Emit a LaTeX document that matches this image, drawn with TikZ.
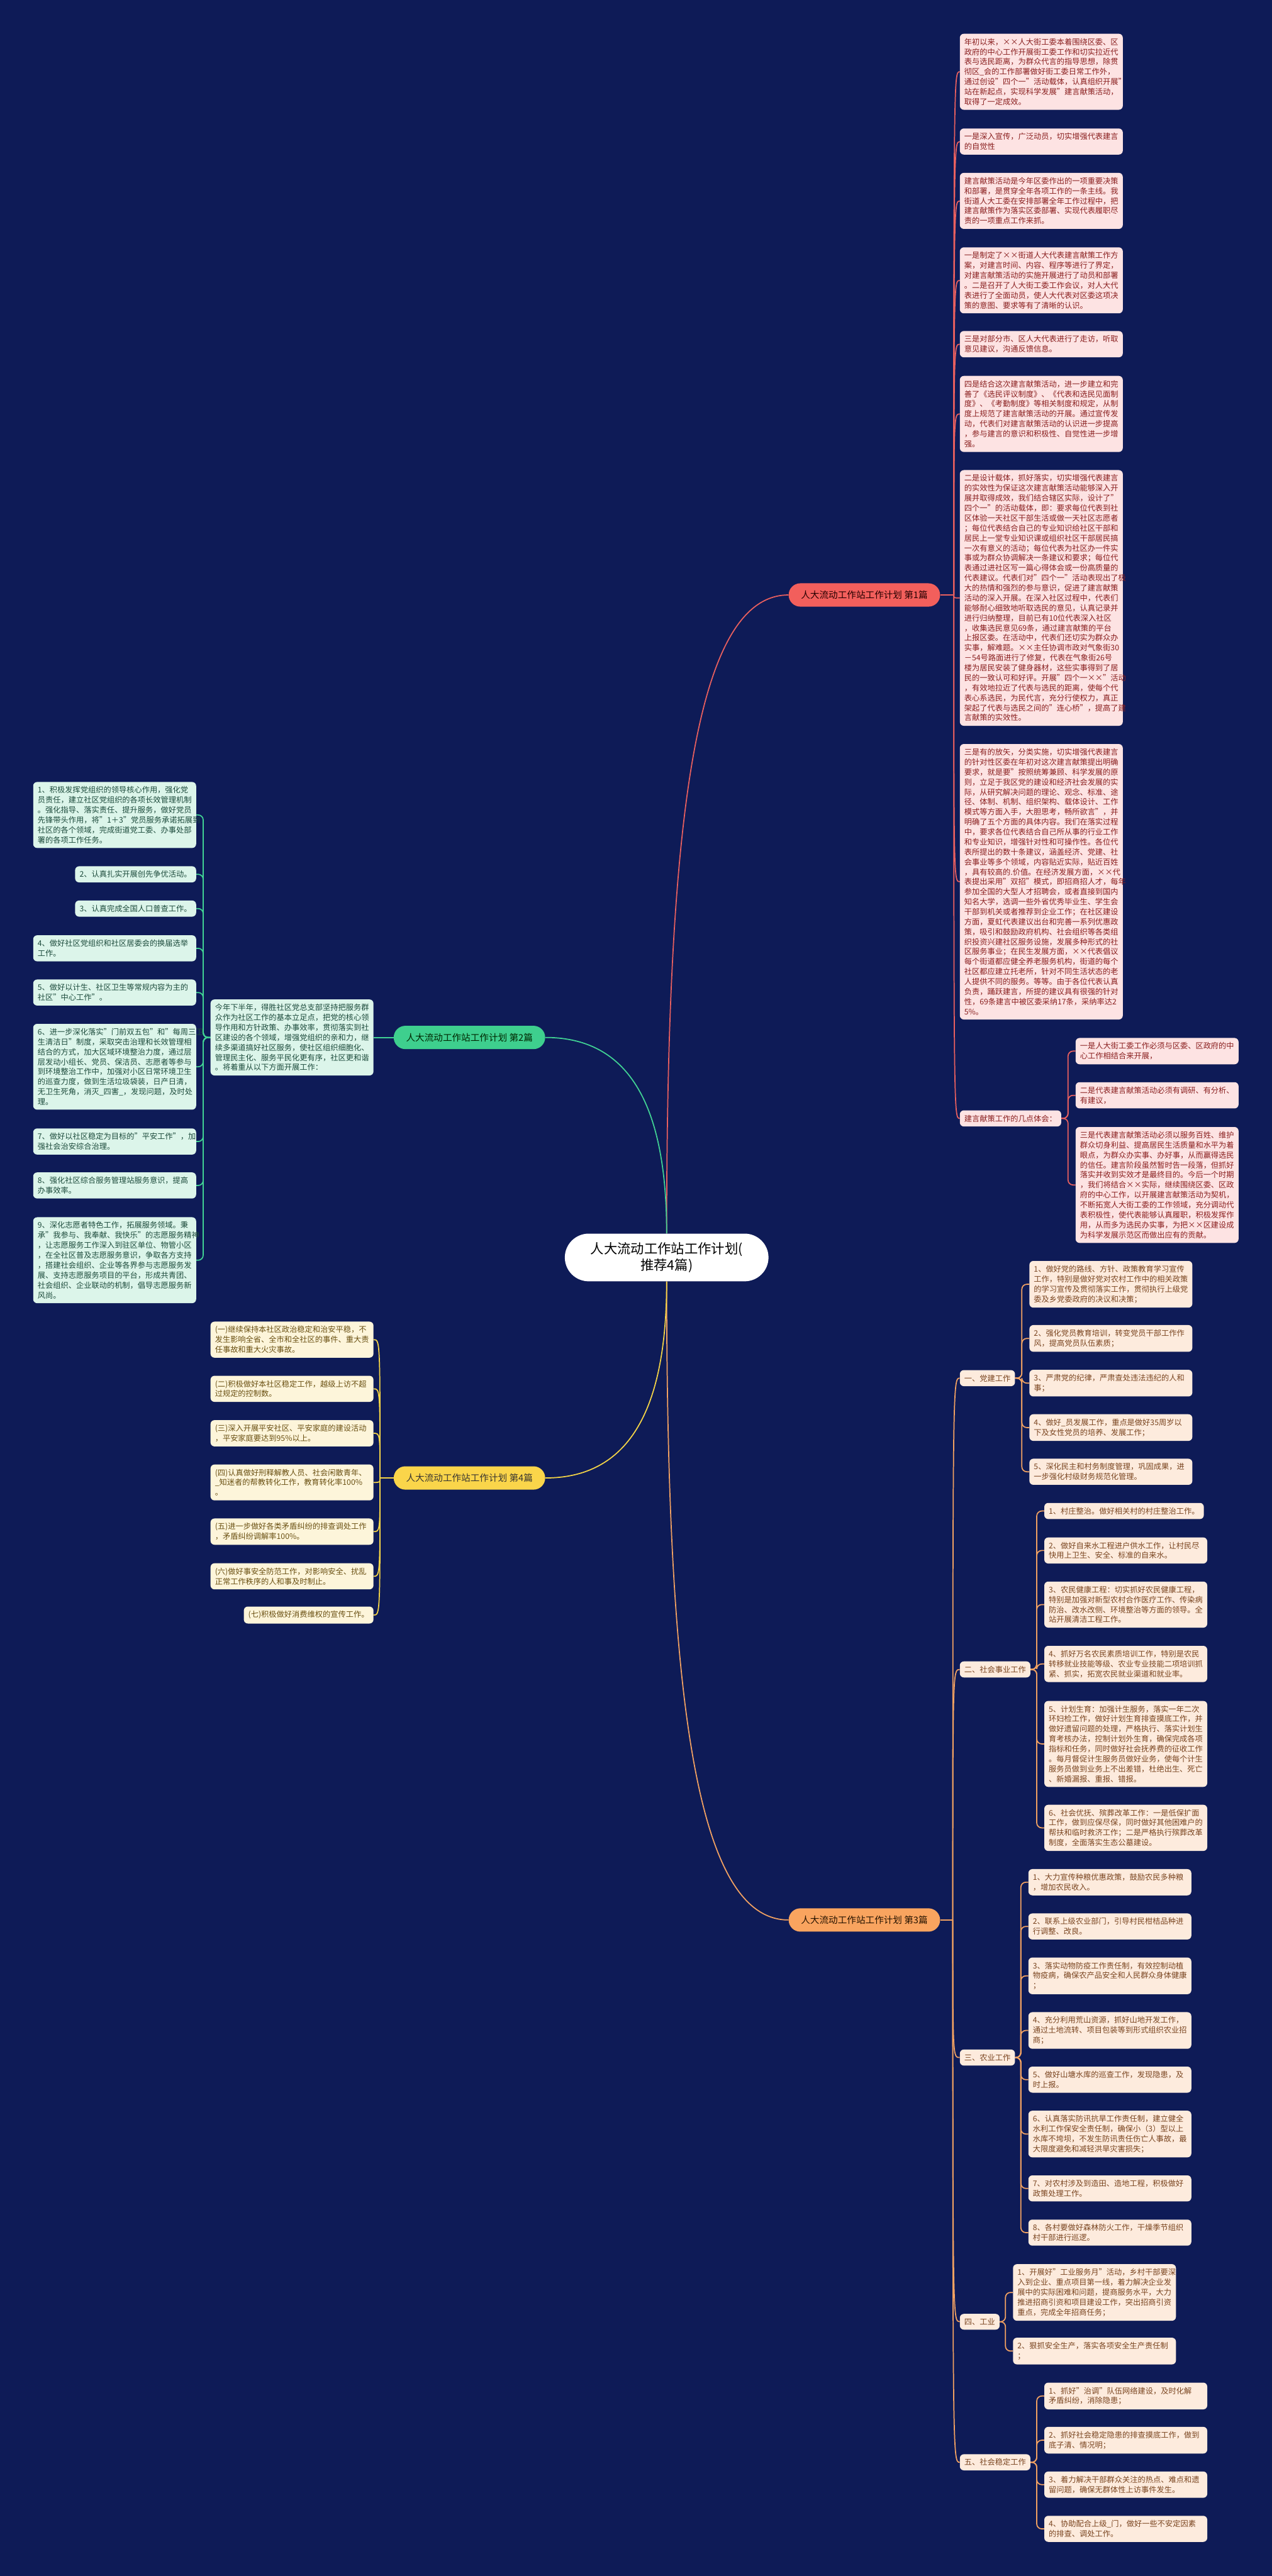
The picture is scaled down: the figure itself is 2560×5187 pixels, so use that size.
\documentclass[tikz,border=0pt]{standalone}
\usepackage{fontspec}
\setmainfont{Noto Sans CJK SC}
\usetikzlibrary{backgrounds}
\definecolor{bgc}{HTML}{0E1B57}
\definecolor{f1}{HTML}{FDE3E3}\definecolor{t1}{HTML}{8A1F1F}\definecolor{n1}{HTML}{F25F5C}\definecolor{k1}{HTML}{E9605F}
\definecolor{f2}{HTML}{DCF5EA}\definecolor{t2}{HTML}{1D4B3C}\definecolor{n2}{HTML}{3ECF8E}\definecolor{k2}{HTML}{41D394}
\definecolor{f3}{HTML}{FDEBDD}\definecolor{t3}{HTML}{7A4520}\definecolor{n3}{HTML}{F9A45F}\definecolor{k3}{HTML}{F2A262}
\definecolor{f4}{HTML}{FDF5DA}\definecolor{t4}{HTML}{6A5012}\definecolor{n4}{HTML}{FAD54A}\definecolor{k4}{HTML}{F4D447}
\newcommand\leaffont{\fontsize{15.5}{20.1}\selectfont}
\tikzset{
 box/.style={rounded corners=8pt, inner xsep=9pt, inner ysep=9pt, align=left, font=\leaffont},
 wide/.style={text width=310pt},
 lr/.style={box, anchor=west},
 ll/.style={box, anchor=east},
 b1/.style={fill=f1, text=t1},
 b2/.style={fill=f2, text=t2},
 b3/.style={fill=f3, text=t3},
 b4/.style={fill=f4, text=t4},
 sec/.style={rounded corners=23.5pt, minimum height=47pt, inner xsep=25pt, font=\fontsize{18.5}{22}\selectfont},
 lnk/.style={line width=2.2pt},
 elb/.style={lnk, rounded corners=10pt},
}
\begin{document}
\begin{tikzpicture}[x=1pt,y=-1pt]
\useasboundingbox (0,0) rectangle (2560,5187);
% root and sections
\node[fill=white, text=black, rounded corners=48pt, minimum width=410pt, minimum height=96pt, align=center, font=\fontsize{27}{33.5}\selectfont] (root) at (1342,2532) {人大流动工作站工作计划(\\推荐4篇)};
\node[sec, fill=n1, text=black!85!red] (s1) at (1740,1198) {人大流动工作站工作计划 第1篇};
\node[sec, fill=n2, text=black!85!green] (s2) at (945,2089) {人大流动工作站工作计划 第2篇};
\node[sec, fill=n3, text=black!85!orange] (s3) at (1740,3866) {人大流动工作站工作计划 第3篇};
\node[sec, fill=n4, text=black!90!yellow] (s4) at (945,2976) {人大流动工作站工作计划 第4篇};
% section 1
\node[lr,b1,wide] (a1) at (1932,144.5) {年初以来，××人大街工委本着围绕区委、区\\政府的中心工作开展街工委工作和切实拉近代\\表与选民距离，为群众代言的指导思想，除贯\\彻区\_会的工作部署做好街工委日常工作外，\\通过创设"四个一"活动载体，认真组织开展"\\站在新起点，实现科学发展"建言献策活动，\\取得了一定成效。};
\node[lr,b1,wide] (a2) at (1932,285) {一是深入宣传，广泛动员，切实增强代表建言\\的自觉性};
\node[lr,b1,wide] (a3) at (1932,404.5) {建言献策活动是今年区委作出的一项重要决策\\和部署，是贯穿全年各项工作的一条主线。我\\街道人大工委在安排部署全年工作过程中，把\\建言献策作为落实区委部署、实现代表履职尽\\责的一项重点工作来抓。};
\node[lr,b1,wide] (a4) at (1932,564.5) {一是制定了××街道人大代表建言献策工作方\\案，对建言时间、内容、程序等进行了界定，\\对建言献策活动的实施开展进行了动员和部署\\。二是召开了人大街工委工作会议，对人大代\\表进行了全面动员，使人大代表对区委这项决\\策的意图、要求等有了清晰的认识。};
\node[lr,b1,wide] (a5) at (1932,693) {三是对部分市、区人大代表进行了走访，听取\\意见建议，沟通反馈信息。};
\node[lr,b1,wide] (a6) at (1932,833.5) {四是结合这次建言献策活动，进一步建立和完\\善了《选民评议制度》、《代表和选民见面制\\度》、《考勤制度》等相关制度和规定，从制\\度上规范了建言献策活动的开展。通过宣传发\\动，代表们对建言献策活动的认识进一步提高\\，参与建言的意识和积极性、自觉性进一步增\\强。};
\node[lr,b1,wide] (a7) at (1932,1204) {二是设计载体，抓好落实，切实增强代表建言\\的实效性为保证这次建言献策活动能够深入开\\展并取得成效，我们结合辖区实际，设计了"\\四个一"的活动载体，即：要求每位代表到社\\区体验一天社区干部生活或做一天社区志愿者\\；每位代表结合自己的专业知识给社区干部和\\居民上一堂专业知识课或组织社区干部居民搞\\一次有意义的活动；每位代表为社区办一件实\\事或为群众协调解决一条建议和要求；每位代\\表通过进社区写一篇心得体会或一份高质量的\\代表建议。代表们对"四个一"活动表现出了极\\大的热情和强烈的参与意识，促进了建言献策\\活动的深入开展。在深入社区过程中，代表们\\能够耐心细致地听取选民的意见，认真记录并\\进行归纳整理，目前已有10位代表深入社区\\，收集选民意见69条，通过建言献策的平台\\上报区委。在活动中，代表们还切实为群众办\\实事，解难题。××主任协调市政对气象街30\\－54号路面进行了修复，代表在气象街26号\\楼为居民安装了健身器材，这些实事得到了居\\民的一致认可和好评。开展"四个一××"活动\\，有效地拉近了代表与选民的距离，使每个代\\表心系选民，为民代言，充分行使权力，真正\\架起了代表与选民之间的"连心桥"，提高了建\\言献策的实效性。};
\node[lr,b1,wide] (a8) at (1932,1775.5) {三是有的放矢，分类实施，切实增强代表建言\\的针对性区委在年初对这次建言献策提出明确\\要求，就是要"按照统筹兼顾、科学发展的原\\则，立足于我区党的建设和经济社会发展的实\\际，从研究解决问题的理论、观念、标准、途\\径、体制、机制、组织架构、载体设计、工作\\模式等方面入手，大胆思考，畅所欲言"，并\\明确了五个方面的具体内容。我们在落实过程\\中，要求各位代表结合自己所从事的行业工作\\和专业知识，增强针对性和可操作性。各位代\\表所提出的数十条建议，涵盖经济、党建、社\\会事业等多个领域，内容贴近实际，贴近百姓\\，具有较高的.价值。在经济发展方面，××代\\表提出采用"双招"模式，即招商招人才，每年\\参加全国的大型人才招聘会，或者直接到国内\\知名大学，选调一些外省优秀毕业生、学生会\\干部到机关或者推荐到企业工作；在社区建设\\方面，夏虹代表建议出台和完善一系列优惠政\\策，吸引和鼓励政府机构、社会组织等各类组\\织投资兴建社区服务设施，发展多种形式的社\\区服务事业；在民生发展方面，××代表倡议\\每个街道都应健全养老服务机构，街道的每个\\社区都应建立托老所，针对不同生活状态的老\\人提供不同的服务。等等。由于各位代表认真\\负责，踊跃建言，所提的建议具有很强的针对\\性，69条建言中被区委采纳17条，采纳率达2\\5\%。};
\node[lr,b1] (b) at (1932,2252) {建言献策工作的几点体会：};
\node[lr,b1,wide] (c1) at (2165,2116.5) {一是人大街工委工作必须与区委、区政府的中\\心工作相结合来开展，};
\node[lr,b1,wide] (c2) at (2165,2205.5) {二是代表建言献策活动必须有调研、有分析、\\有建议，};
\node[lr,b1,wide] (c3) at (2165,2386) {三是代表建言献策活动必须以服务百姓、维护\\群众切身利益、提高居民生活质量和水平为着\\眼点，为群众办实事、办好事，从而赢得选民\\的信任。建言阶段虽然暂时告一段落，但抓好\\落实并收到实效才是最终目的。今后一个时期\\，我们将结合××实际，继续围绕区委、区政\\府的中心工作，以开展建言献策活动为契机，\\不断拓宽人大街工委的工作领域，充分调动代\\表积极性，使代表能够认真履职，积极发挥作\\用，从而多为选民办实事，为把××区建设成\\为科学发展示范区而做出应有的贡献。};
% section 2
\node[ll,b2,wide] (f0) at (752,2089) {今年下半年，得胜社区党总支部坚持把服务群\\众作为社区工作的基本立足点，把党的核心领\\导作用和方针政策、办事效率，贯彻落实到社\\区建设的各个领域，增强党组织的亲和力，继\\续多渠道搞好社区服务，使社区组织细胞化、\\管理民主化、服务平民化更有序，社区更和谐\\。将着重从以下方面开展工作：};
\node[ll,b2,wide] (g1) at (395,1641) {1、积极发挥党组织的领导核心作用，强化党\\员责任，建立社区党组织的各项长效管理机制\\。强化指导、落实责任、提升服务，做好党员\\先锋带头作用，将"1＋3"党员服务承诺拓展到\\社区的各个领域，完成街道党工委、办事处部\\署的各项工作任务。};
\node[ll,b2] (g2) at (395,1760.5) {2、认真扎实开展创先争优活动。};
\node[ll,b2] (g3) at (395,1829.5) {3、认真完成全国人口普查工作。};
\node[ll,b2,wide] (g4) at (395,1909.5) {4、做好社区党组织和社区居委会的换届选举\\工作。};
\node[ll,b2,wide] (g5) at (395,1998.5) {5、做好以计生、社区卫生等常规内容为主的\\社区"中心工作"。};
\node[ll,b2,wide] (g6) at (395,2148) {6、进一步深化落实"门前双五包"和"每周三卫\\生清洁日"制度，采取突击治理和长效管理相\\结合的方式，加大区域环境整治力度，通过层\\层发动小组长、党员、保洁员、志愿者等参与\\到环境整治工作中，加强对小区日常环境卫生\\的巡查力度，做到生活垃圾袋装，日产日清，\\无卫生死角，消灭\_四害\_，发现问题，及时处\\理。};
\node[ll,b2,wide] (g7) at (395,2298.5) {7、做好以社区稳定为目标的"平安工作"，加\\强社会治安综合治理。};
\node[ll,b2,wide] (g8) at (395,2387) {8、强化社区综合服务管理站服务意识，提高\\办事效率。};
\node[ll,b2,wide] (g9) at (395,2537.5) {9、深化志愿者特色工作，拓展服务领域。秉\\承"我参与、我奉献、我快乐"的志愿服务精神\\，让志愿服务工作深入到驻区单位、物管小区\\，在全社区普及志愿服务意识，争取各方支持\\，搭建社会组织、企业等各界参与志愿服务发\\展、支持志愿服务项目的平台，形成共青团、\\社会组织、企业联动的机制，倡导志愿服务新\\风尚。};
% section 4
\node[ll,b4,wide] (h1) at (752,2697.5) {(一)继续保持本社区政治稳定和治安平稳，不\\发生影响全省、全市和全社区的事件、重大责\\任事故和重大火灾事故。};
\node[ll,b4,wide] (h2) at (752,2796.5) {(二)积极做好本社区稳定工作，越级上访不超\\过规定的控制数。};
\node[ll,b4,wide] (h3) at (752,2886) {(三)深入开展平安社区、平安家庭的建设活动\\，平安家庭要达到95\%以上。};
\node[ll,b4,wide] (h4) at (752,2985) {(四)认真做好刑释解教人员、社会闲散青年、\\\_知迷者的帮教转化工作，教育转化率100\%\\。};
\node[ll,b4,wide] (h5) at (752,3084) {(五)进一步做好各类矛盾纠纷的排查调处工作\\，矛盾纠纷调解率100\%。};
\node[ll,b4,wide] (h6) at (752,3174) {(六)做好事安全防范工作，对影响安全、扰乱\\正常工作秩序的人和事及时制止。};
\node[ll,b4] (h7) at (752,3252) {(七)积极做好消费维权的宣传工作。};
% section 3
\node[lr,b3] (d1) at (1932,2775) {一、党建工作};
\node[lr,b3] (d2) at (1932,3361.5) {二、社会事业工作};
\node[lr,b3] (d3) at (1932,4143) {三、农业工作};
\node[lr,b3] (d4) at (1932,4675) {四、工业};
\node[lr,b3] (d5) at (1932,4958) {五、社会稳定工作};
\node[lr,b3,wide] (e11) at (2072,2586) {1、做好党的路线、方针、政策教育学习宣传\\工作，特别是做好党对农村工作中的相关政策\\的学习宣传及贯彻落实工作，贯彻执行上级党\\委及乡党委政府的决议和决策；};
\node[lr,b3,wide] (e12) at (2072,2695) {2、强化党员教育培训，转变党员干部工作作\\风，提高党员队伍素质；};
\node[lr,b3,wide] (e13) at (2072,2785) {3、严肃党的纪律，严肃查处违法违纪的人和\\事；};
\node[lr,b3,wide] (e14) at (2072,2874.5) {4、做好\_员发展工作，重点是做好35周岁以\\下及女性党员的培养、发展工作；};
\node[lr,b3,wide] (e15) at (2072,2963.5) {5、深化民主和村务制度管理，巩固成果，进\\一步强化村级财务规范化管理。};
\node[lr,b3] (e21) at (2102,3042.5) {1、村庄整治。做好相关村的村庄整治工作。};
\node[lr,b3,wide] (e22) at (2102,3122) {2、做好自来水工程进户供水工作，让村民尽\\快用上卫生、安全、标准的自来水。};
\node[lr,b3,wide] (e23) at (2102,3231) {3、农民健康工程：切实抓好农民健康工程，\\特别是加强对新型农村合作医疗工作、传染病\\防治、改水改侧、环境整治等方面的领导。全\\站开展清洁工程工作。};
\node[lr,b3,wide] (e24) at (2102,3350.5) {4、抓好万名农民素质培训工作，特别是农民\\转移就业技能等级、农业专业技能二项培训抓\\紧、抓实，拓宽农民就业渠道和就业率。};
\node[lr,b3,wide] (e25) at (2102,3511.5) {5、计划生育：加强计生服务，落实一年二次\\环妇检工作，做好计划生育排查摸底工作，并\\做好遗留问题的处理，严格执行、落实计划生\\育考核办法，控制计划外生育，确保完成各项\\指标和任务，同时做好社会抚养费的征收工作\\。每月督促计生服务员做好业务，使每个计生\\服务员做到业务上不出差错，杜绝出生、死亡\\、新婚漏报、重报、错报。};
\node[lr,b3,wide] (e26) at (2102,3680.5) {6、社会优抚、殡葬改革工作：一是低保扩面\\工作，做到应保尽保，同时做好其他困难户的\\帮扶和临时救济工作；二是严格执行殡葬改革\\制度，全面落实生态公墓建设。};
\node[lr,b3,wide] (e31) at (2070,3790) {1、大力宣传种粮优惠政策，鼓励农民多种粮\\，增加农民收入。};
\node[lr,b3,wide] (e32) at (2070,3879) {2、联系上级农业部门，引导村民柑桔品种进\\行调整、改良。};
\node[lr,b3,wide] (e33) at (2070,3978.5) {3、落实动物防疫工作责任制，有效控制动植\\物疫病，确保农产品安全和人民群众身体健康\\；};
\node[lr,b3,wide] (e34) at (2070,4088.5) {4、充分利用荒山资源，抓好山地开发工作，\\通过土地流转、项目包装等到形式组织农业招\\商；};
\node[lr,b3,wide] (e35) at (2070,4187.5) {5、做好山塘水库的巡查工作，发现隐患，及\\时上报。};
\node[lr,b3,wide] (e36) at (2070,4297) {6、认真落实防讯抗旱工作责任制，建立健全\\水利工作保安全责任制，确保小（3）型以上\\水库不垮坝，不发生防讯责任伤亡人事故，最\\大限度避免和减轻洪旱灾害损失；};
\node[lr,b3,wide] (e37) at (2070,4406.5) {7、对农村涉及到造田、造地工程，积极做好\\政策处理工作。};
\node[lr,b3,wide] (e38) at (2070,4495.5) {8、各村要做好森林防火工作，干燥季节组织\\村干部进行巡逻。};
\node[lr,b3,wide] (e41) at (2039,4616) {1、开展好"工业服务月"活动，乡村干部要深\\入到企业、重点项目第一线，着力解决企业发\\展中的实际困难和问题，提商服务水平，大力\\推进招商引资和项目建设工作，突出招商引资\\重点，完成全年招商任务；};
\node[lr,b3,wide] (e42) at (2039,4734) {2、狠抓安全生产，落实各项安全生产责任制\\；};
\node[lr,b3,wide] (e51) at (2102,4824.5) {1、抓好"治调"队伍网络建设，及时化解\\矛盾纠纷，消除隐患；};
\node[lr,b3,wide] (e52) at (2102,4913.5) {2、抓好社会稳定隐患的排查摸底工作，做到\\底子清、情况明；};
\node[lr,b3,wide] (e53) at (2102,5003) {3、着力解决干部群众关注的热点、难点和遗\\留问题，确保无群体性上访事件发生。};
\node[lr,b3,wide] (e54) at (2102,5092) {4、协助配合上级\_门，做好一些不安定因素\\的排查、调处工作。};
% connectors
\begin{scope}[on background layer]
\fill[bgc] (0,0) rectangle (2560,5187);
\draw[lnk,k1] (root.north) .. controls (1342,1650) and (1400,1198) .. (s1.west);
\draw[lnk,k2] (s2.east) .. controls (1250,2089) and (1342,2200) .. (root.north);
\draw[lnk,k3] (root.south) .. controls (1342,3414) and (1400,3866) .. (s3.west);
\draw[lnk,k4] (s4.east) .. controls (1250,2976) and (1342,2864) .. (root.south);
% section 1
\draw[lnk,k1] (s1.east) -- (1920,1198) coordinate (j1);
\foreach \n in {a1,a2,a3,a4,a5,a6,a7,a8,b} \draw[lnk,k1] (j1) .. controls (j1 |- \n.west) .. (\n.west);
\foreach \n in {c1,c2,c3} \draw[elb,k1] (b.east) -- (2150,2252) |- (\n.west);
% section 2
\draw[lnk,k2] (s2.west) -- (f0.east);
\foreach \n in {g1,g2,g3,g4,g5,g6,g7,g8,g9} \draw[elb,k2] (f0.west) -- (409,2089) |- (\n.east);
% section 4
\draw[lnk,k4] (s4.west) -- (765,2976) coordinate (j4);
\foreach \n in {h1,h2,h3,h4,h5,h6,h7} \draw[lnk,k4] (j4) .. controls (j4 |- \n.east) .. (\n.east);
% section 3
\draw[lnk,k3] (s3.east) -- (1918,3866) coordinate (j3);
\foreach \n in {d1,d2,d3,d4,d5} \draw[lnk,k3] (j3) .. controls (j3 |- \n.west) .. (\n.west);
\foreach \n in {e11,e12,e13,e14,e15} \draw[elb,k3] (d1.east) -- (2057,2775) |- (\n.west);
\foreach \n in {e21,e22,e23,e24,e25,e26} \draw[elb,k3] (d2.east) -- (2087,3361.5) |- (\n.west);
\foreach \n in {e31,e32,e33,e34,e35,e36,e37,e38} \draw[elb,k3] (d3.east) -- (2055,4143) |- (\n.west);
\foreach \n in {e41,e42} \draw[elb,k3] (d4.east) -- (2024,4675) |- (\n.west);
\foreach \n in {e51,e52,e53,e54} \draw[elb,k3] (d5.east) -- (2087,4958) |- (\n.west);
\end{scope}
\end{tikzpicture}
\end{document}
